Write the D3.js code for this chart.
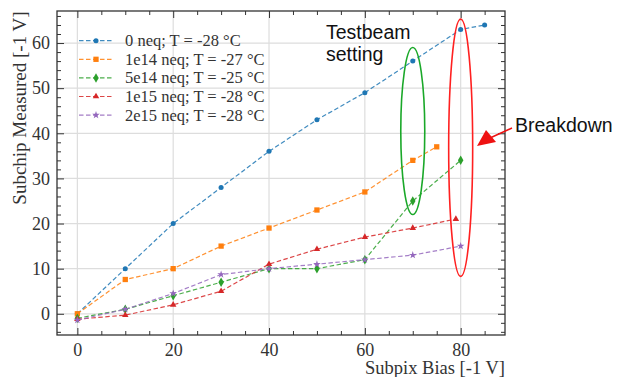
<!DOCTYPE html>
<html>
<head>
<meta charset="utf-8">
<script src="https://cdn.jsdelivr.net/npm/d3@7"></script>
<style>
  html, body { margin: 0; padding: 0; background: #fff; }
  svg { display: block; }
</style>
</head>
<body>
<svg id="chart" width="617" height="377"></svg>
<script>
// Subchip voltage versus subpixel bias for several fluences
const seriesNames = [
  "0 neq; T = -28 °C",
  "1e14 neq; T = -27 °C",
  "5e14 neq; T = -25 °C",
  "1e15 neq; T = -28 °C",
  "2e15 neq; T = -28 °C"
];
const seriesColors = ["#1f77b4", "#ff7f0e", "#2ca02c", "#d62728", "#9467bd"];
const seriesSymbols = [d3.symbolCircle, d3.symbolSquare, d3.symbolDiamond, d3.symbolTriangle, d3.symbolStar];

const biasBlue   = [0, 10, 20, 30, 40, 50, 60, 70, 80, 85];
const valueBlue  = [0, 10, 20, 28, 36, 43, 49, 56, 63, 64];
const biasOrange = [0, 10, 20, 30, 40, 50, 60, 70, 75];
const valueOrange= [0, 7.6, 10, 15, 19, 23, 27, 34, 37];
const biasGreen  = [0, 10, 20, 30, 40, 50, 60, 70, 80];
const valueGreen = [-1, 1, 4, 7, 10, 10, 12, 25, 34];
const biasRed    = [0, 10, 20, 30, 40, 50, 60, 70, 79];
const valueRed   = [-1.2, -0.3, 2, 5, 11, 14.3, 17, 19, 21];
const biasPurple = [0, 10, 20, 30, 40, 50, 60, 70, 80];
const valuePurple= [-1.4, 1, 4.5, 8.7, 10, 11, 12, 13, 15];

const seriesX = [biasBlue, biasOrange, biasGreen, biasRed, biasPurple];
const seriesY = [valueBlue, valueOrange, valueGreen, valueRed, valuePurple];

const xTicks = [0, 20, 40, 60, 80];
const yTicks = [0, 10, 20, 30, 40, 50, 60];

// Highlighted operating points: testbeam setting at 70, breakdown at 80
const testbeamBias = 70, testbeamRange = [22, 59];
const breakdownBias = 80, breakdownRange = [8.3, 65.3];

const svg = d3.select("#chart");
const m = { left: 57, right: 505, top: 11, bottom: 335 };

const x = d3.scaleLinear().domain([-4.25, 89.25]).range([m.left, m.right]);
const y = d3.scaleLinear().domain([-4.7, 67.1]).range([m.bottom, m.top]);

const serif = "'Liberation Serif', 'DejaVu Serif', serif";
const sans = "'Liberation Sans', Arial, sans-serif";

// grid
const grid = svg.append("g").attr("stroke", "#dddddd").attr("stroke-width", 1.2);
xTicks.forEach(t => grid.append("line").attr("x1", x(t)).attr("x2", x(t)).attr("y1", m.top).attr("y2", m.bottom));
yTicks.forEach(t => grid.append("line").attr("y1", y(t)).attr("y2", y(t)).attr("x1", m.left).attr("x2", m.right));

// inward ticks on all four sides
function tickAxes() {
  const xMinor = d3.range(0, 90, 5).filter(v => !xTicks.includes(v));
  const yMinor = d3.range(-4, 67, 2).filter(v => !yTicks.includes(v));
  const specs = [
    [d3.axisBottom(x).tickValues(xTicks).tickSize(-7).tickPadding(8).tickFormat(d3.format("d")), `translate(0,${m.bottom})`],
    [d3.axisBottom(x).tickValues(xMinor).tickSize(-4).tickFormat(""), `translate(0,${m.bottom})`],
    [d3.axisTop(x).tickValues(xTicks).tickSize(-7).tickFormat(""), `translate(0,${m.top})`],
    [d3.axisTop(x).tickValues(xMinor).tickSize(-4).tickFormat(""), `translate(0,${m.top})`],
    [d3.axisLeft(y).tickValues(yTicks).tickSize(-7).tickPadding(7).tickFormat(d3.format("d")), `translate(${m.left},0)`],
    [d3.axisLeft(y).tickValues(yMinor).tickSize(-4).tickFormat(""), `translate(${m.left},0)`],
    [d3.axisRight(y).tickValues(yTicks).tickSize(-7).tickFormat(""), `translate(${m.right},0)`],
    [d3.axisRight(y).tickValues(yMinor).tickSize(-4).tickFormat(""), `translate(${m.right},0)`]
  ];
  specs.forEach(([ax, tr]) => {
    const g = svg.append("g").attr("transform", tr).call(ax);
    g.select(".domain").remove();
    g.selectAll("line").attr("stroke", "#333").attr("stroke-width", 1);
    g.selectAll("text").attr("font-family", serif).attr("font-size", 18).attr("fill", "#333");
  });
}
tickAxes();

// series
const markerSize = [20, 28, 26, 18, 18];
const line = d3.line().x(d => x(d[0])).y(d => y(d[1]));
seriesNames.forEach((name, i) => {
  const pts = seriesX[i].map((v, j) => [v, seriesY[i][j]]);
  svg.append("path").datum(pts).attr("d", line)
    .attr("fill", "none").attr("stroke", seriesColors[i]).attr("stroke-width", 1.2)
    .attr("stroke-dasharray", "4.5,2.5").attr("opacity", 0.85);
  svg.append("g").selectAll("path").data(pts).join("path")
    .attr("transform", d => `translate(${x(d[0])},${y(d[1])})`)
    .attr("d", d3.symbol().type(seriesSymbols[i]).size(markerSize[i]))
    .attr("fill", seriesColors[i]);
});

// frame
svg.append("rect").attr("x", m.left).attr("y", m.top)
  .attr("width", m.right - m.left).attr("height", m.bottom - m.top)
  .attr("fill", "none").attr("stroke", "#333").attr("stroke-width", 1.3);

// legend
const leg = svg.append("g");
seriesNames.forEach((name, i) => {
  const yy = 40.7 + i * 18.6;
  leg.append("line").attr("x1", 79).attr("x2", 113).attr("y1", yy).attr("y2", yy)
    .attr("stroke", seriesColors[i]).attr("stroke-width", 1.2).attr("stroke-dasharray", "4.5,2.5").attr("opacity", 0.85);
  leg.append("path").attr("transform", `translate(96,${yy})`)
    .attr("d", d3.symbol().type(seriesSymbols[i]).size(markerSize[i]))
    .attr("fill", seriesColors[i]);
  leg.append("text").attr("x", 125).attr("y", yy + 5.5).text(name)
    .attr("font-family", serif).attr("font-size", 16.5).attr("fill", "#333");
});

// axis titles
svg.append("text").attr("x", m.right).attr("y", 374).attr("text-anchor", "end")
  .attr("font-family", serif).attr("font-size", 18.5).attr("fill", "#333").text("Subpix Bias [-1 V]");
svg.append("text").attr("transform", "translate(26,108) rotate(-90)")
  .attr("text-anchor", "middle").attr("font-family", serif).attr("font-size", 19).attr("fill", "#333")
  .text("Subchip Measured [-1 V]");

// highlight ellipses
function ellipse(bias, range, color) {
  svg.append("ellipse")
    .attr("cx", x(bias)).attr("cy", (y(range[0]) + y(range[1])) / 2)
    .attr("rx", 12).attr("ry", Math.abs(y(range[0]) - y(range[1])) / 2)
    .attr("fill", "none").attr("stroke", color).attr("stroke-width", 1.6);
}
ellipse(testbeamBias, testbeamRange, "#1aa829");
ellipse(breakdownBias, breakdownRange, "#ff2020");

svg.append("text").attr("font-family", sans).attr("font-size", 19.5).attr("fill", "#111")
  .selectAll("tspan").data(["Testbeam", "setting"]).join("tspan")
  .attr("x", 326).attr("y", (d, i) => 39 + i * 22).text(d => d);

svg.append("text").attr("x", 515).attr("y", 132).attr("font-family", sans).attr("font-size", 19.5)
  .attr("fill", "#111").text("Breakdown");

// arrow toward the breakdown ellipse
svg.append("line").attr("x1", 512).attr("y1", 128).attr("x2", 490).attr("y2", 138)
  .attr("stroke", "#ee1111").attr("stroke-width", 1.5);
svg.append("path").attr("d", "M477,146 L486,130 L496,142 Z").attr("fill", "#ee1111");
</script>
</body>
</html>
